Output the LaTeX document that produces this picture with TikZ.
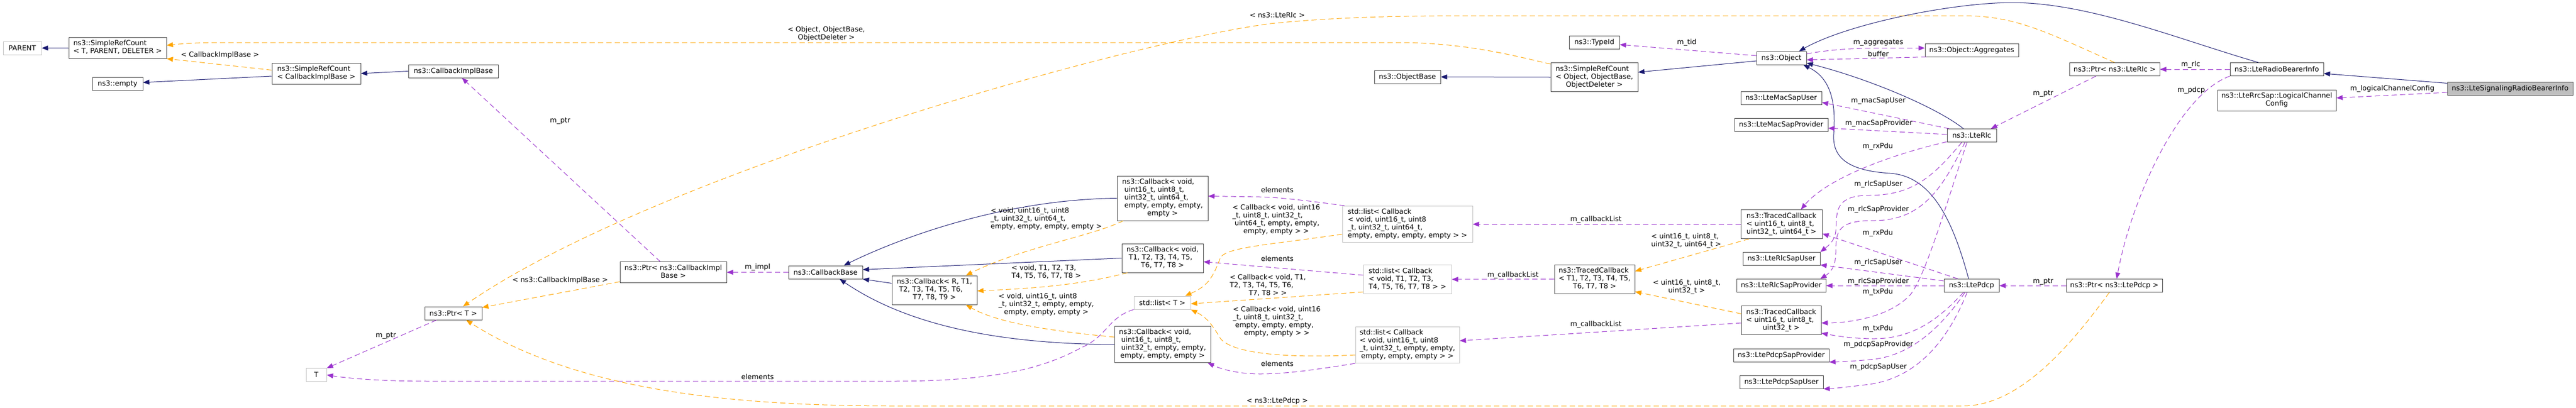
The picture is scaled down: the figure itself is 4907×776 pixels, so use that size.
\documentclass[tikz,border=0pt]{standalone}
\usepackage{fontspec}
\setmainfont{DejaVu Sans}
\usepackage{tikz}
\usetikzlibrary{arrows.meta,calc}
\definecolor{inhblue}{HTML}{191970}
\definecolor{usepurple}{HTML}{9A32CD}
\definecolor{tplorange}{HTML}{FFA500}
\definecolor{docgray}{HTML}{404040}
\definecolor{undocgray}{HTML}{BFBFBF}
\newcommand{\dlines}[1]{\begin{tabular}{@{}l@{}}#1\end{tabular}}
\newcommand{\dlast}[1]{\multicolumn{1}{@{}c@{}}{#1}}

\begin{document}
\begin{tikzpicture}[x=0.75pt, y=-0.75pt,
  font=\fontsize{10}{11.25}\selectfont,
  sz/.style 2 args={minimum width=#1*0.75pt, minimum height=#2*0.75pt},
  cls/.style={draw=docgray, line width=0.75pt, inner sep=0pt, text=black},
  nodoc/.style={cls, draw=undocgray},
  current/.style={cls, fill=undocgray},
  lab/.style={inner sep=0pt, text=black},
  tip/.style={-{Triangle[length=9pt,width=7pt]}},
  inherit/.style={tip, color=inhblue, line width=0.75pt},
  usage/.style={tip, color=usepurple, line width=0.75pt, dash pattern=on 7.5pt off 4.5pt},
  templ/.style={tip, color=tplorange, line width=0.75pt, dash pattern=on 7.5pt off 4.5pt}]

\useasboundingbox (0,0) rectangle (4907,776);

% classes on one line
\foreach \n/\x/\y/\w/\t in {
  empty/224/160/96/ns3::empty,
  cib/863.5/135.5/171/ns3::CallbackImplBase,
  ptrt/863.5/596.5/109/ns3::Ptr< T >,
  cbbase/1572.5/518.5/141/ns3::CallbackBase,
  objbase/2681/146.5/126/ns3::ObjectBase,
  typeid/3037/80.5/96/ns3::TypeId,
  object/3393.5/110.5/95/ns3::Object,
  macuser/3393/187/154/ns3::LteMacSapUser,
  macprov/3393/238/178/ns3::LteMacSapProvider,
  rlcuser/3393.5/493/147/ns3::LteRlcSapUser,
  rlcprov/3393/544/170/ns3::LteRlcSapProvider,
  pdcpprov/3393/676.5/182/ns3::LtePdcpSapProvider,
  pdcpuser/3393.5/727.5/159/ns3::LtePdcpSapUser,
  aggregates/3756/95.5/178/ns3::Object::Aggregates,
  lterlc/3756/258/94/ns3::LteRlc,
  ltepdcp/3755.5/544/105/ns3::LtePdcp,
  ptrrlc/4028/132/172/ns3::Ptr< ns3::LteRlc >,
  ptrpdcp/4027.5/544/183/ns3::Ptr< ns3::LtePdcp >,
  rbinfo/4337/132/178/ns3::LteRadioBearerInfo}
  \node[cls, sz={\w}{25}] (\n) at (\x,\y) {\t};

% classes on more lines
\node[cls, sz={186}{40}] (srct) at (224,91.25)
  {\dlines{ns3::SimpleRefCount\\\dlast{< T, PARENT, DELETER >}}};
\node[cls, sz={169}{40}] (srccib) at (602.5,140)
  {\dlines{ns3::SimpleRefCount\\\dlast{< CallbackImplBase >}}};
\node[cls, sz={203}{40}] (ptrcib) at (1282.5,518.5)
  {\dlines{ns3::Ptr< ns3::CallbackImpl\\\dlast{Base >}}};
\node[cls, sz={162}{55}] (cbr) at (1780,552.5)
  {\dlines{ns3::Callback< R, T1,\\\ T2, T3, T4, T5, T6,\\\dlast{T7, T8, T9 >}}};
\node[cls, sz={173}{85}] (cbu64) at (2214.5,377.5)
  {\dlines{ns3::Callback< void,\\\ uint16\_t, uint8\_t,\\\ uint32\_t, uint64\_t,\\\ empty, empty, empty,\\\dlast{empty >}}};
\node[cls, sz={155}{55}] (cbt) at (2214.5,491.5)
  {\dlines{ns3::Callback< void,\\\ T1, T2, T3, T4, T5,\\\dlast{T6, T7, T8 >}}};
\node[cls, sz={183}{69}] (cbu32) at (2214.5,656)
  {\dlines{ns3::Callback< void,\\\ uint16\_t, uint8\_t,\\\ uint32\_t, empty, empty,\\\dlast{empty, empty, empty >}}};
\node[cls, sz={166}{55}] (srcobj) at (3037,147)
  {\dlines{ns3::SimpleRefCount\\< Object, ObjectBase,\\\dlast{ObjectDeleter >}}};
\node[cls, sz={153}{55}] (tct) at (3037.5,531.5)
  {\dlines{ns3::TracedCallback\\< T1, T2, T3, T4, T5,\\\dlast{T6, T7, T8 >}}};
\node[cls, sz={155}{55}] (tcu64) at (3393.5,427)
  {\dlines{ns3::TracedCallback\\< uint16\_t, uint8\_t,\\\dlast{uint32\_t, uint64\_t >}}};
\node[cls, sz={152}{55}] (tcu32) at (3393,610)
  {\dlines{ns3::TracedCallback\\< uint16\_t, uint8\_t,\\\dlast{uint32\_t >}}};
\node[cls, sz={226}{40}] (lcconfig) at (4337,191)
  {\dlines{ns3::LteRrcSap::LogicalChannel\\\dlast{Config}}};
\node[current, sz={239}{25}] (srb) at (4781.5,168.5) {ns3::LteSignalingRadioBearerInfo};

% classes without docs
\node[nodoc, sz={73}{25}] (parent) at (42.5,91.5) {PARENT};
\node[nodoc, sz={39}{25}] (t) at (602.5,714) {T};
\node[nodoc, sz={108}{25}] (listt) at (2214,576.5) {std::list< T >};
\node[nodoc, sz={248}{69}] (listu64) at (2681,427)
  {\dlines{std::list< Callback\\< void, uint16\_t, uint8\\\_t, uint32\_t, uint64\_t,\\\dlast{empty, empty, empty, empty > >}}};
\node[nodoc, sz={168}{55}] (listt8) at (2681,532)
  {\dlines{std::list< Callback\\< void, T1, T2, T3,\\\dlast{T4, T5, T6, T7, T8 > >}}};
\node[nodoc, sz={198}{69}] (listu32) at (2681,657)
  {\dlines{std::list< Callback\\< void, uint16\_t, uint8\\\_t, uint32\_t, empty, empty,\\\dlast{empty, empty, empty > >}}};

%% inheritance
\draw[inherit] (srct.west) -- (parent.east);
\draw[inherit] ($(srccib.west)+(0,5)$) -- ($(empty.east)+(0,-3)$);
\draw[inherit] (cib.west) -- (srccib.east);
\draw[inherit] (cbu64.west) .. controls (1900,380) and (1700,460) .. ($(cbbase.north)+(35,0)$);
\draw[inherit] (cbt.west) -- ($(cbbase.east)+(0,-5)$);
\draw[inherit] ($(cbr.west)+(0,-13)$) -- (cbbase.south east);
\draw[inherit] (cbu32.west) .. controls (1850,655) and (1700,600) .. ($(cbbase.south west)+(98,0)$);
\draw[inherit] (srcobj.west) -- (objbase.east);
\draw[inherit] ($(object.west)+(0,5.5)$) -- ($(srcobj.east)+(0,-9.5)$);
\draw[inherit] ($(lterlc.north)+(-16,0)$) .. controls (3690,205) and (3560,150) .. ($(object.south east)+(0,-3.5)$);
\draw[inherit] ($(ltepdcp.north)+(-5.5,0)$) .. controls (3720,420) and (3680,335) .. (3600,330)
  .. controls (3520,325) and (3490,300) .. (3493,255) .. controls (3497,200) and (3490,150) .. ($(object.south)+(41.5,0)$);
\draw[inherit] ($(rbinfo.north)+(-35,0)$) .. controls (4150,75) and (3980,5) .. (3833,5)
  .. controls (3720,5) and (3520,45) .. ($(object.north)+(33.5,0)$);
\draw[inherit] ($(srb.west)+(0,-10)$) -- ($(rbinfo.east)+(0,8)$);

%% members
\draw[usage] ($(ptrt.south west)+(23,0)$) -- (t.north east);
\draw[usage] (listt.south west) .. controls (2110,605) and (2110,640) .. (2060,662)
  .. controls (1990,700) and (1900,726) .. (1700,726) -- (820,726) .. controls (720,726) and (660,720) .. (t.east);
\draw[usage] ($(ptrcib.north west)+(77,0)$) -- ($(cib.south)+(16.5,0)$);
\draw[usage] (cbbase.west) -- (ptrcib.east);
\draw[usage] ($(listu64.north west)+(5,0)$) .. controls (2480,380) and (2420,375) .. (2400,375) -- ($(cbu64.east)+(0,-4)$);
\draw[usage] ($(listt8.west)+(0,-8)$) -- ($(cbt.east)+(0,7)$);
\draw[usage] (listu32.south west) .. controls (2500,705) and (2450,712) .. (2400,712)
  .. controls (2350,712) and (2320,700) .. ($(cbu32.south east)+(-6,0)$);
\draw[usage] (tcu64.west) -- (listu64.east);
\draw[usage] (tct.west) -- (listt8.east);
\draw[usage] ($(tcu32.west)+(0,5)$) -- ($(listu32.east)+(0,-8)$);
\draw[usage] ($(object.west)+(0,-4.5)$) -- ($(typeid.east)+(0,4.5)$);
\draw[usage] ($(object.east)+(0,-8)$) .. controls (3500,92) and (3550,91.5) .. (3600,91.5) -- ($(aggregates.west)+(0,-4)$);
\draw[usage] ($(aggregates.south west)+(3,0)$) -- ($(object.east)+(0,3.5)$);
\draw[usage] ($(lterlc.north west)+(4,0)$) -- ($(macuser.east)+(0,8)$);
\draw[usage] ($(lterlc.west)+(0,-2)$) -- ($(macprov.east)+(0,6)$);
\draw[usage] ($(lterlc.west)+(0,12)$) .. controls (3600,295) and (3480,340) .. ($(tcu64.north)+(37,0)$);
\draw[usage] ($(lterlc.south)+(-19,0)$) .. controls (3680,340) and (3640,372) .. (3560,372)
  .. controls (3490,372) and (3500,410) .. (3497,440) .. controls (3495,460) and (3480,470) .. (rlcuser.north east);
\draw[usage] ($(lterlc.south)+(-13,0)$) .. controls (3700,360) and (3660,420) .. (3570,420)
  .. controls (3500,420) and (3497,440) .. (3497,480) .. controls (3497,510) and (3485,520) .. ($(rlcprov.north east)+(-11,0)$);
\draw[usage] ($(lterlc.south)+(-9,0)$) .. controls (3710,380) and (3670,520) .. (3640,560)
  .. controls (3600,605) and (3520,615) .. ($(tcu32.east)+(0,5)$);
\draw[usage] ($(ltepdcp.north west)+(27,0)$) -- ($(tcu64.south east)+(0,-10)$);
\draw[usage] ($(ltepdcp.west)+(0,-9)$) -- ($(rlcuser.south east)+(0,-1.5)$);
\draw[usage] (ltepdcp.west) -- (rlcprov.east);
\draw[usage] ($(ltepdcp.south)+(-15.5,0)$) .. controls (3700,600) and (3650,645) .. (3570,645)
  .. controls (3530,645) and (3500,640) .. ($(tcu32.south east)+(0,-3.5)$);
\draw[usage] ($(ltepdcp.south)+(-12.5,0)$) .. controls (3700,620) and (3640,680) .. (3560,685)
  .. controls (3530,688) and (3500,689) .. (pdcpprov.south east);
\draw[usage] ($(ltepdcp.south)+(-8.5,0)$) .. controls (3710,650) and (3650,720) .. (3560,732)
  .. controls (3520,737) and (3490,740) .. (pdcpuser.south east);
\draw[usage] ($(ptrrlc.south west)+(51,0)$) -- ($(lterlc.north east)+(-11,0)$);
\draw[usage] (ptrpdcp.west) -- (ltepdcp.east);
\draw[usage] (rbinfo.west) -- (ptrrlc.east);
\draw[usage] (rbinfo.south west) .. controls (4150,180) and (4060,380) .. ($(ptrpdcp.north)+(4.5,0)$);
\draw[usage] ($(srb.west)+(0,7.5)$) -- ($(lcconfig.east)+(0,-4.5)$);

%% template instances
\draw[templ] ($(srccib.north west)+(0,14)$) -- (srct.south east);
\draw[templ] ($(srcobj.north west)+(0,3)$) .. controls (2880,105) and (2800,84) .. (2680,81) -- (420,81)
  .. controls (370,81) and (340,84) .. ($(srct.east)+(0,-5)$);
\draw[templ] (ptrrlc.north) .. controls (3900,62) and (3840,30) .. (3740,30) -- (2800,30)
  .. controls (2600,30) and (2500,37) .. (2420,45) .. controls (2150,80) and (1250,330) .. ($(ptrt.north)+(18.5,0)$);
\draw[templ] ($(ptrcib.west)+(0,18)$) -- ($(ptrt.east)+(0,-11)$);
\draw[templ] ($(ptrpdcp.south)+(-9.5,0)$) .. controls (3950,650) and (3850,773) .. (3740,773) -- (1700,773)
  .. controls (1400,773) and (1100,745) .. ($(ptrt.south)+(24.5,0)$);
\draw[templ] ($(cbu64.south west)+(12,0)$) .. controls (2080,450) and (1950,470) .. ($(cbr.north)+(60,0)$);
\draw[templ] ($(cbt.south west)+(11,0)$) .. controls (2050,545) and (1950,550) .. ($(cbr.east)+(0,1.5)$);
\draw[templ] ($(cbu32.west)+(0,-14)$) .. controls (2000,630) and (1900,615) .. ($(cbr.south)+(60,0)$);
\draw[templ] ($(listu64.west)+(0,19)$) .. controls (2420,466) and (2340,470) .. (2325,490)
  .. controls (2310,530) and (2300,545) .. ($(listt.north east)+(-11,0)$);
\draw[templ] ($(listt8.west)+(0,24)$) -- ($(listt.east)+(0,2)$);
\draw[templ] ($(listu32.west)+(0,19)$) .. controls (2460,682) and (2350,675) .. (2325,645)
  .. controls (2310,620) and (2300,605) .. (listt.south east);
\draw[templ] ($(tcu64.south west)+(16,0)$) -- ($(tct.east)+(0,-15)$);
\draw[templ] ($(tcu32.west)+(0,-12.5)$) -- ($(tct.south east)+(0,-4)$);

% labels
\foreach \n/\x/\y/\t in {
  lmptrt/735/639/m\_ptr, lelemt/1443/718/elements, lmptrcib/1067/230/m\_ptr,
  lmimpl/1443/509/m\_impl, lelemu64/2433/362/elements, lelemt8/2433/493/elements,
  lelemu32/2433/693/elements, lcblu64/3040/418/m\_callbackList, lcblt8/2882/524/m\_callbackList,
  lcblu32/3040/618/m\_callbackList, ltid/3213/81/m\_tid, laggr/3578/81.5/m\_aggregates,
  lbuffer/3578/103/buffer, lmacuser/3578/192/m\_macSapUser, lmacprov/3579/235/m\_macSapProvider,
  lrxrlc/3577/279/m\_rxPdu, lrlcuserrlc/3578/351/m\_rlcSapUser, lrlcprovrlc/3578/399/m\_rlcSapProvider,
  lrxpdcp/3577/443.5/m\_rxPdu, lrlcuserpdcp/3578/500/m\_rlcSapUser, lrlcprovpdcp/3578/536/m\_rlcSapProvider,
  ltxrlc/3577/556/m\_txPdu, ltxpdcp/3577/626/m\_txPdu, lpdcpprov/3578/656/m\_pdcpSapProvider,
  lpdcpuser/3578/699/m\_pdcpSapUser, lptrrlc/3892/178/m\_ptr, lptrpdcp/3892/536/m\_ptr,
  lrlc/4173/123/m\_rlc, lpdcp/4174/172/m\_pdcp, llcc/4557/169/m\_logicalChannelConfig,
  lcibase/419/105/< CallbackImplBase >, llterlc/2433/28.5/< ns3::LteRlc >,
  lptrcib/1067/534/< ns3::CallbackImplBase >, lltepdcp/2433/764/< ns3::LtePdcp >}
  \node[lab] (\n) at (\x,\y) {\t};

\node[lab] (lobj) at (1574,64.5) {\dlines{< Object, ObjectBase,\\\dlast{ObjectDeleter >}}};
\node[lab] (lu64cb) at (1993,417) {\dlines{< void, uint16\_t, uint8\\\_t, uint32\_t, uint64\_t,\\\dlast{empty, empty, empty, empty >}}};
\node[lab] (lt8cb) at (1993,518.5) {\dlines{< void, T1, T2, T3,\\\dlast{T4, T5, T6, T7, T8 >}}};
\node[lab] (lu32cb) at (1993,580) {\dlines{< void, uint16\_t, uint8\\\_t, uint32\_t, empty, empty,\\\dlast{empty, empty, empty >}}};
\node[lab] (llistu64) at (2431,418.5) {\dlines{< Callback< void, uint16\\\_t, uint8\_t, uint32\_t,\\\ uint64\_t, empty, empty,\\\dlast{empty, empty > >}}};
\node[lab] (llistt8) at (2415,544) {\dlines{< Callback< void, T1,\\T2, T3, T4, T5, T6,\\\dlast{T7, T8 > >}}};
\node[lab] (llistu32) at (2432,612.5) {\dlines{< Callback< void, uint16\\\_t, uint8\_t, uint32\_t,\\\ empty, empty, empty,\\\dlast{empty, empty > >}}};
\node[lab] (ltcu64) at (3212,459) {\dlines{< uint16\_t, uint8\_t,\\\dlast{uint32\_t, uint64\_t >}}};
\node[lab] (ltcu32) at (3213,547) {\dlines{< uint16\_t, uint8\_t,\\\dlast{uint32\_t >}}};

\end{tikzpicture}
\end{document}
